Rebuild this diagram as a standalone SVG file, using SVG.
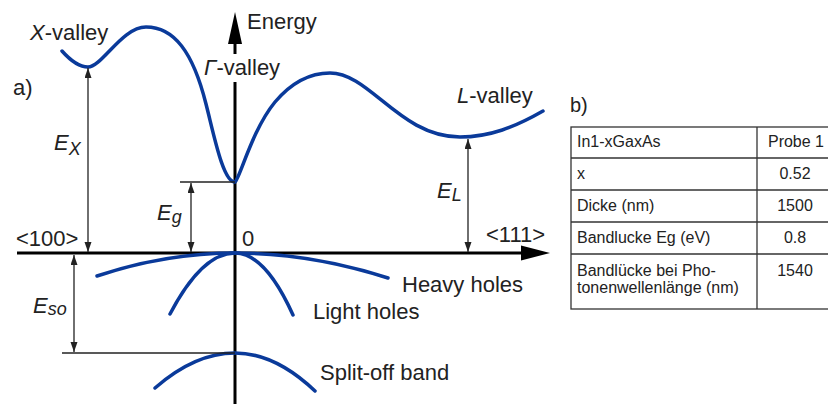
<svg xmlns="http://www.w3.org/2000/svg" width="828" height="406" viewBox="0 0 828 406">
<defs>
<style>
text{font-family:"Liberation Sans",Arial,sans-serif;fill:#222;}
.lbl{font-size:22px;}
.it{font-style:italic;}
.sub{font-size:18px;font-style:italic;}
.tb{font-size:16px;}
.band{fill:none;stroke:#0a3a9a;stroke-width:3.5;stroke-linecap:round;}
.thin{fill:none;stroke:#222;stroke-width:1.3;}
.ax{fill:none;stroke:#000;stroke-width:3;}
.grid{fill:none;stroke:#333;stroke-width:1.3;}
</style>
<marker id="ah" markerUnits="userSpaceOnUse" markerWidth="11" markerHeight="8" refX="10" refY="3.5" orient="auto-start-reverse">
<path d="M0,0 L10,3.5 L0,7 z" fill="#222"/>
</marker>
</defs>
<rect width="828" height="406" fill="#fff"/>

<g id="axes">
<line class="ax" x1="235" y1="40" x2="235" y2="54"/>
<line class="ax" x1="235" y1="82" x2="235" y2="404"/>
<polygon points="235,12 228,44 242,44" fill="#000"/>
<line class="ax" x1="17" y1="253" x2="524" y2="253"/>
<polygon points="550,253 521,245.5 521,260.5" fill="#000"/>
</g>

<g id="bands">
<path class="band" d="M62,51 C70,60 80,67 88,67 C102,67 122,27 146,27 C174,27 193,52 206,104 C214,135 223,182 235,182 C240,178 252,130 275,102 C292,82 310,73 330,73 C370,73 400,137 460,137 C490,137 515,127 543,111"/>
<path class="band" d="M97,276 Q166,253 235,253 Q311,253 388,278"/>
<path class="band" d="M170,314 Q202,253 235,253 Q265,253 293,315"/>
<path class="band" d="M155,388 Q195,353 235,353 Q275,353 315,391"/>
</g>

<g id="connectors">
<line class="thin" x1="88" y1="68" x2="88" y2="252" marker-start="url(#ah)" marker-end="url(#ah)"/>
<line class="thin" x1="180" y1="182" x2="235" y2="182"/>
<line class="thin" x1="191" y1="183" x2="191" y2="252" marker-start="url(#ah)" marker-end="url(#ah)"/>
<line class="thin" x1="468" y1="139" x2="468" y2="252" marker-start="url(#ah)" marker-end="url(#ah)"/>
<line class="thin" x1="62" y1="353" x2="235" y2="353"/>
<line class="thin" x1="74" y1="255" x2="74" y2="352" marker-start="url(#ah)" marker-end="url(#ah)"/>
</g>

<g id="labels">
<text class="lbl" x="247" y="29">Energy</text>
<text class="lbl" x="30" y="40"><tspan class="it">X</tspan>-valley</text>
<text class="lbl" x="204" y="75"><tspan class="it">Γ</tspan>-valley</text>
<text class="lbl" x="457" y="103"><tspan class="it">L</tspan>-valley</text>
<text class="lbl" x="13" y="95">a)</text>
<text class="lbl" x="16" y="246">&lt;100&gt;</text>
<text class="lbl" x="486" y="242">&lt;111&gt;</text>
<text class="lbl" x="242" y="246">0</text>
<text class="lbl" x="402" y="292">Heavy holes</text>
<text class="lbl" x="313" y="319">Light holes</text>
<text class="lbl" x="320" y="380">Split-off band</text>
<text class="lbl it" x="54" y="150">E<tspan class="sub" dy="5">X</tspan></text>
<text class="lbl it" x="157" y="220">E<tspan class="sub" dy="3">g</tspan></text>
<text class="lbl it" x="33" y="313">E<tspan class="sub" dy="2">so</tspan></text>
<text class="lbl it" x="437" y="198">E<tspan class="sub" dy="3">L</tspan></text>
</g>

<g id="table">
<text x="570" y="112" style="font-size:20px">b)</text>
<rect class="grid" x="571" y="127" width="262" height="182"/>
<line class="grid" x1="757" y1="127" x2="757" y2="309"/>
<line class="grid" x1="571" y1="158" x2="833" y2="158"/>
<line class="grid" x1="571" y1="190" x2="833" y2="190"/>
<line class="grid" x1="571" y1="222" x2="833" y2="222"/>
<line class="grid" x1="571" y1="254" x2="833" y2="254"/>
<text class="tb" x="577" y="147">In1-xGaxAs</text>
<text class="tb" x="577" y="179">x</text>
<text class="tb" x="577" y="211">Dicke (nm)</text>
<text class="tb" x="577" y="243">Bandlucke Eg (eV)</text>
<text class="tb" x="577" y="276">Bandlücke bei Pho-</text>
<text class="tb" x="577" y="293">tonenwellenlänge (nm)</text>
<g style="text-anchor:middle">
<text class="tb" x="796" y="147">Probe 1</text>
<text class="tb" x="795" y="179">0.52</text>
<text class="tb" x="795" y="211">1500</text>
<text class="tb" x="795" y="243">0.8</text>
<text class="tb" x="795" y="276">1540</text>
</g>
</g>
</svg>
